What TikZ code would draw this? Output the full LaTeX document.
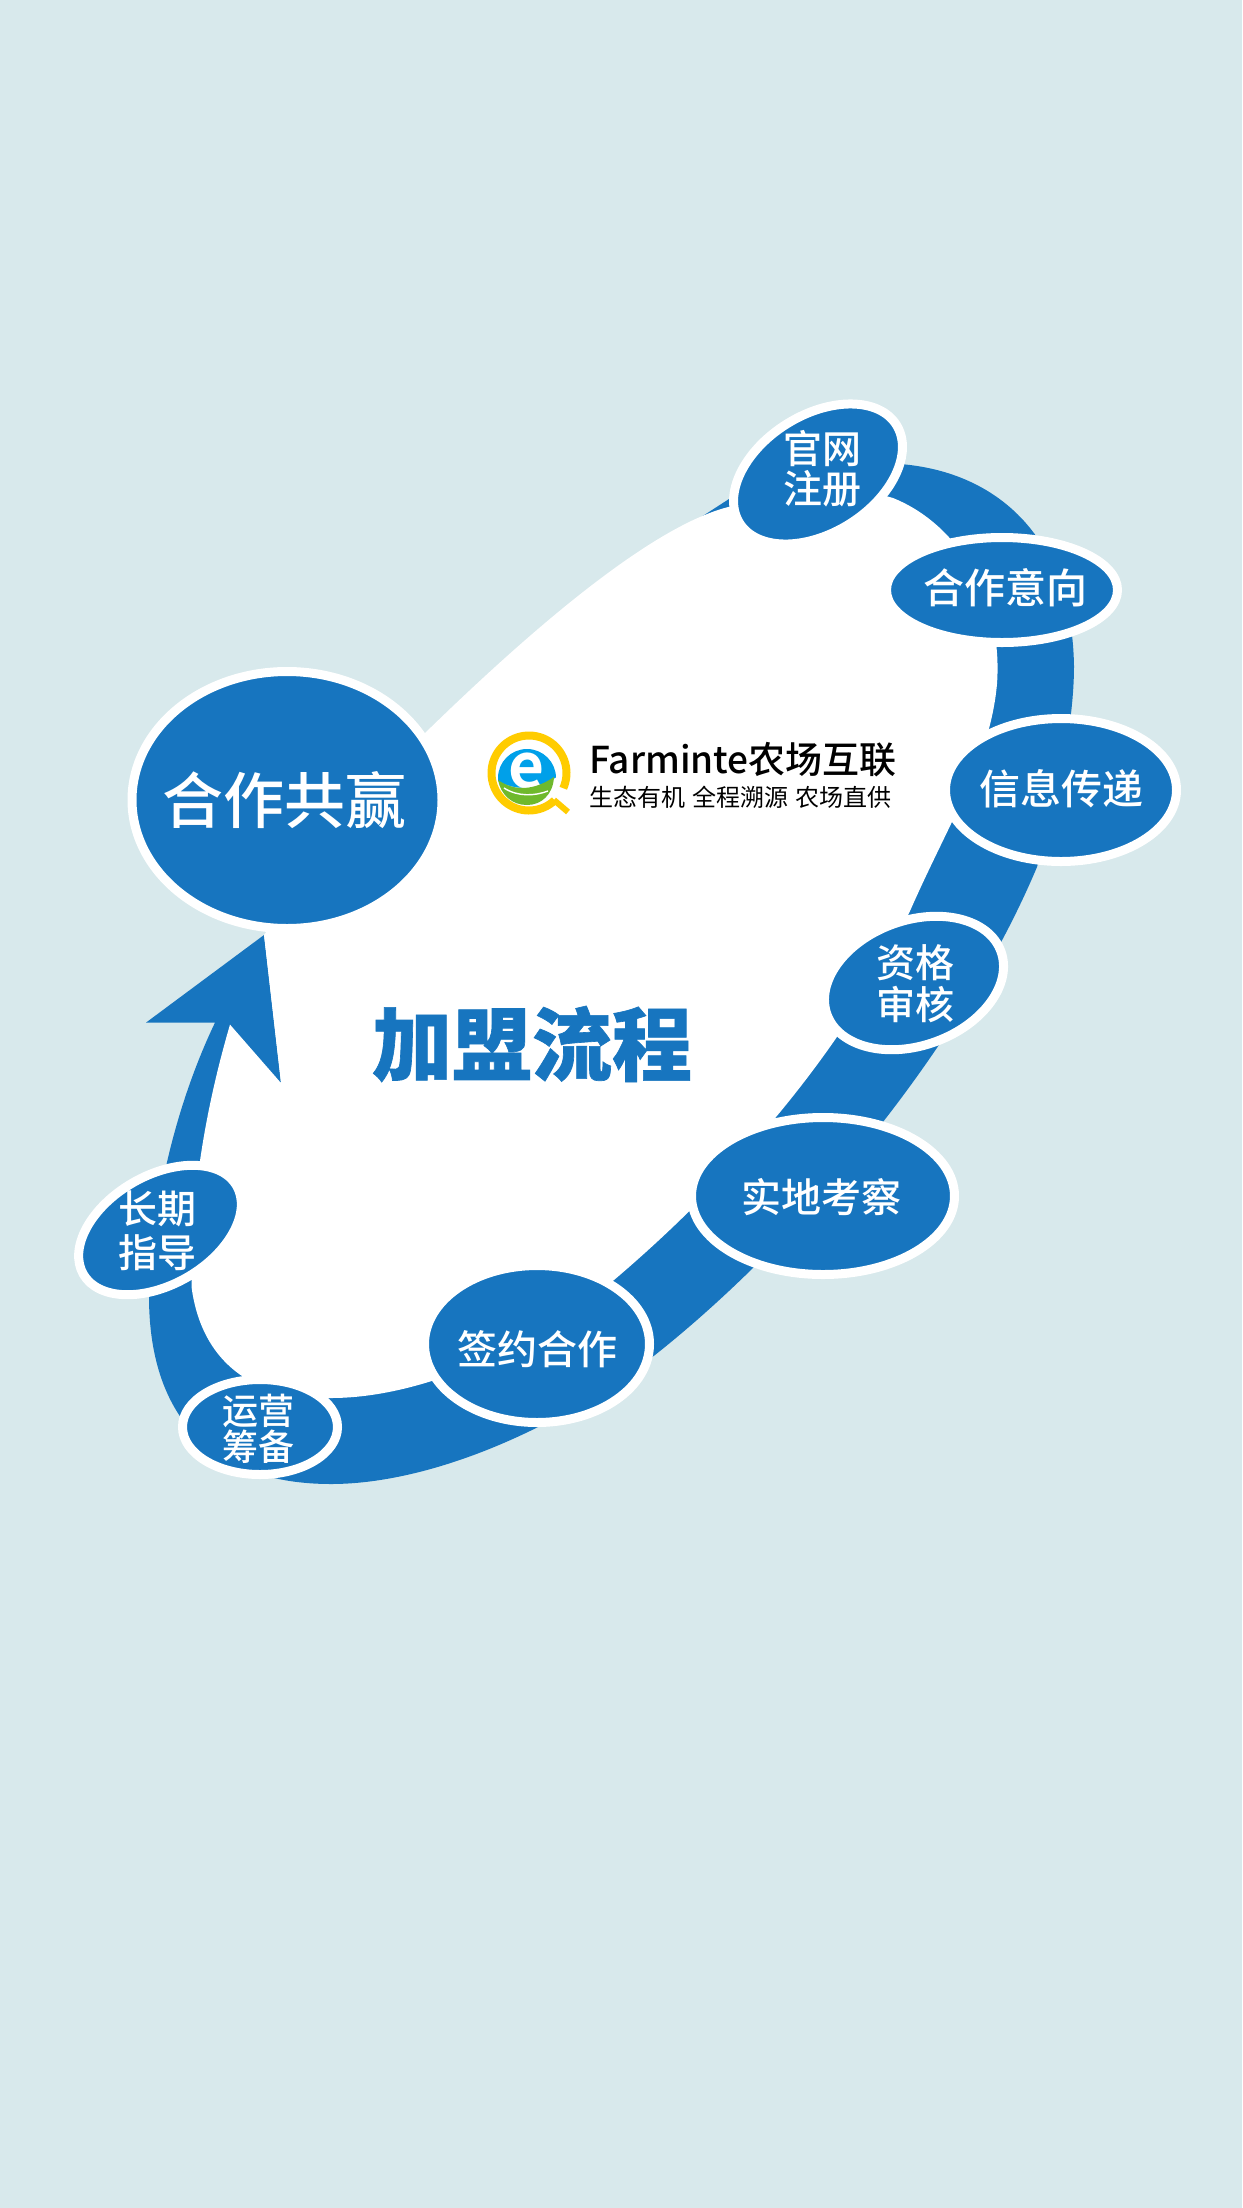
\documentclass[tikz,border=0pt]{standalone}
\usepackage{fontspec}
\setmainfont{Noto Sans CJK SC}
\newfontfamily\cjkheavy[FakeBold=0.8]{Noto Sans CJK SC Black}
\newfontfamily\logofont{Noto Sans CJK SC Bold}
\newfontfamily\tagfont{Noto Sans CJK SC Medium}
\usetikzlibrary{shapes.geometric}
\definecolor{bgc}{HTML}{D8E9EC}
\definecolor{bluec}{HTML}{1775BF}
\definecolor{logoblue}{HTML}{00A0E9}
\definecolor{logogreen}{HTML}{6FB92C}
\definecolor{logoyellow}{HTML}{FFCC00}
\tikzset{
  pill/.style={ellipse,draw=white,fill=bluec,line width=9pt,inner sep=0pt,outer sep=0pt},
  tag/.style={text=white,align=center,inner sep=0pt,font=\tagfont\fontsize{#1}{#1}\selectfont},
}
\begin{document}
\begin{tikzpicture}[x=1pt,y=-1pt]
\useasboundingbox (0,0) rectangle (1242,2208);
\fill[bgc] (0,0) rectangle (1242,2208);
% blue band and arrowhead
\fill[bluec] (264,935) -- (146,1022.6) -- (215,1022.6)
  .. controls (178,1100) and (152,1200) .. (149,1299)
  .. controls (150,1420) and (215,1484) .. (331,1484)
  .. controls (420,1484) and (540,1440) .. (655,1355)
  .. controls (800,1240) and (960,1050) .. (1037,867)
  .. controls (1060,790) and (1074,720) .. (1074,666)
  .. controls (1072,540) and (1000,472) .. (900,464)
  -- (860,450) -- (729,499) -- (695,521) -- (600,800) -- (281,1083) -- cycle;
% white interior
\fill[white] (264,935) -- (281,1083) -- (230,1024.6)
  .. controls (205,1110) and (190,1200) .. (191.6,1287.5)
  .. controls (200,1350) and (240,1400) .. (331,1398)
  .. controls (420,1398) and (530,1350) .. (614,1280)
  .. controls (720,1190) and (840,1060) .. (910,911)
  .. controls (950,820) and (990,760) .. (997,684)
  .. controls (1003,600) and (960,525) .. (893,498)
  -- (830,480) -- (745,504)
  .. controls (660,512) and (510,650) .. (422,736)
  -- (340,830) -- cycle;
% step ellipses
\node[pill,minimum width=310pt,minimum height=257pt] (win) at (287,800) {};
\node[pill,minimum width=185pt,minimum height=118pt,rotate=32] (reg) at (818,474) {};
\node[pill,minimum width=231pt,minimum height=105pt] (intent) at (1002,590) {};
\node[pill,minimum width=231pt,minimum height=143pt] (info) at (1061,790) {};
\node[pill,minimum width=185pt,minimum height=125pt,rotate=20] (qual) at (914,983) {};
\node[pill,minimum width=263pt,minimum height=157pt] (visit) at (823,1196) {};
\node[pill,minimum width=225pt,minimum height=157pt] (sign) at (537,1344) {};
\node[pill,minimum width=155pt,minimum height=95pt] (prep) at (260,1427) {};
\node[pill,minimum width=177pt,minimum height=109pt,rotate=30] (guide) at (160,1230) {};
% labels
\node[tag=61] (winT) at (284,800) {合作共赢};
\node[tag=39] (regT) at (822,469) {官网\\[1pt]注册};
\node[tag=41] (intentT) at (1005,588) {合作意向};
\node[tag=41] (infoT) at (1061,789) {信息传递};
\node[tag=39] (qualT) at (915,984) {资格\\[3pt]审核};
\node[tag=40] (visitT) at (821,1197) {实地考察};
\node[tag=40] (signT) at (537,1349) {签约合作};
\node[tag=36] (prepT) at (258,1429) {运营\\筹备};
\node[tag=39] (guideT) at (157,1231) {长期\\[5pt]指导};
% title
\node[inner sep=0pt,text=bluec,font=\cjkheavy\fontsize{80}{80}\selectfont] (title) at (532,1044) {加盟流程};
% logo
\fill[logoblue] (527,778) circle (29);
\node[inner sep=0pt,text=white,font=\logofont\fontsize{62}{62}\selectfont] (e) at (527,771) {e};
\fill[white] (496,780) .. controls (515,792) and (538,790) .. (560,775) -- (562,815) -- (495,815) -- cycle;
\fill[logogreen] (498,780) .. controls (515,792) and (535,790) .. (554,777) .. controls (553,795) and (541,805) .. (527,805) .. controls (512,805) and (501,795) .. (498,780) -- cycle;
\draw[white,line width=1.4pt] (504,788) .. controls (518,797) and (535,796) .. (548,791);
\draw[logoyellow,line width=8pt] plot[domain=24:-313,samples=70] ({529+37.5*cos(\x)},{773+37.5*sin(\x)});
\draw[logoyellow,line width=6pt] (554,800) -- (568,812);
\node[inner sep=0pt,anchor=base west,font=\tagfont\fontsize{37}{37}\selectfont] (brand) at (589,773) {Farminte{\fontsize{37}{37}\selectfont 农场互联}};
\node[inner sep=0pt,anchor=base west,font=\fontsize{24}{24}\selectfont] (slogan) at (589,806) {生态有机\hspace{2pt} 全程溯源\hspace{2pt} 农场直供};
\end{tikzpicture}
\end{document}
